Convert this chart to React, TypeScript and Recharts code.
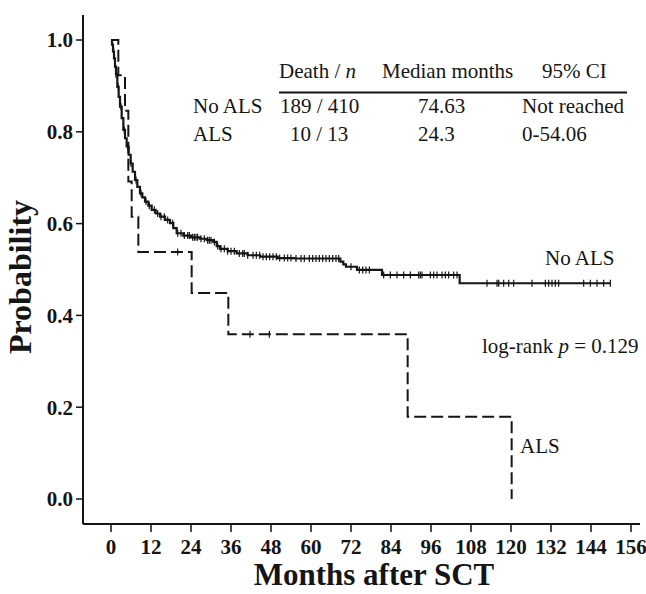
import React from "react";
import { ComposedChart, Line, Scatter, XAxis, YAxis } from "recharts";

const FONT = "'Liberation Serif', 'Times New Roman', serif";
const INK = "#151515";

const monthTicks = [0, 12, 24, 36, 48, 60, 72, 84, 96, 108, 120, 132, 144, 156];
const probTicks = [0, 0.2, 0.4, 0.6, 0.8, 1.0];

// No ALS (n = 410) Kaplan-Meier steps
const noAlsTimes = [
  0, 0.3, 0.6, 0.9, 1.2, 1.5, 1.9, 2.3, 2.7, 3.2, 3.7, 4.2, 4.7, 5.3, 5.9, 6.5,
  7.2, 7.9, 8.7, 9.4, 10.2, 11.2, 12.2, 13.4, 14.7, 16.2, 17.7, 18.7, 19.7,
  21.7, 24, 26.7, 28.7, 30.7, 31.7, 32.7, 35, 37.7, 41, 44.7, 50, 55, 68.8,
  69.7, 70.5, 73.8, 81.3, 104.6, 149.8,
];
const noAlsSurv = [
  1.0, 0.99, 0.975, 0.96, 0.942, 0.925, 0.898, 0.876, 0.855, 0.83, 0.804, 0.786,
  0.768, 0.75, 0.731, 0.713, 0.695, 0.68, 0.666, 0.657, 0.648, 0.639, 0.63,
  0.622, 0.615, 0.608, 0.601, 0.59, 0.579, 0.574, 0.57, 0.567, 0.564, 0.56,
  0.551, 0.545, 0.54, 0.535, 0.531, 0.528, 0.525, 0.524, 0.517, 0.511, 0.506,
  0.499, 0.488, 0.47, 0.47,
];
const noAlsCensored = [
  0.8, 1.5, 2.2, 3, 4, 5, 6, 7.5, 9, 10.5, 11.5, 13, 14, 15, 16, 17, 18.5, 20,
  21, 22, 23, 23.5, 24.5, 25, 25.5, 26, 27, 28, 29, 29.5, 30, 31, 32, 33, 34,
  35, 36, 37, 38.5, 39.5, 40, 41, 42.6, 43.6, 44.6, 45.6, 46.6, 47.6, 48.6,
  49.6, 50.6, 52, 53, 54, 55.5, 57, 58, 59.5, 60.5, 61.5, 62.5, 63.5, 64.5,
  65.5, 66.5, 67.5, 68.3, 72, 74.5, 75.5, 76.5, 77.5, 81.8, 83.8, 85.8, 87.8,
  89.8, 92.3, 92.8, 93.3, 95.8, 96.8, 97.8, 99.3, 100.3, 101.3, 102.8, 103.8,
  112.8, 115.8, 116.3, 117.8, 119.3, 120.8, 126.3, 130.3, 131.3, 132.3, 133.3,
  134.3, 141.8, 143.8, 145.8, 147.8, 149.8,
];

// ALS (n = 13)
const alsTimes = [0, 2.2, 4.2, 5.2, 6.2, 8.2, 24.2, 35.2, 89, 120.2];
const alsSurv = [1.0, 0.923, 0.846, 0.692, 0.615, 0.538, 0.449, 0.359, 0.179, 0];
const alsCensored = [20, 41.7, 47.5];

const tableHeader = ["Death / ", "Median months", "95% CI"];
const tableRows = [
  ["No ALS", "189 / 410", "74.63", "Not reached"],
  ["ALS", "10 / 13", "24.3", "0-54.06"],
];

const toSeries = (times: number[], surv: number[]) =>
  times.map((t, i) => ({ t, s: surv[i] }));

const stepValue = (times: number[], surv: number[], t: number) => {
  let v = surv[0];
  for (let i = 0; i < times.length; i++) if (times[i] <= t) v = surv[i];
  return v;
};

const noAlsLine = toSeries(noAlsTimes, noAlsSurv);
const alsLine = toSeries(alsTimes, alsSurv);
const noAlsMarks = noAlsCensored.map((t) => ({ t, s: stepValue(noAlsTimes, noAlsSurv, t) }));
const alsMarks = alsCensored.map((t) => ({ t, s: stepValue(alsTimes, alsSurv, t) }));

const CensorMark = (props: any) => {
  const { cx, cy } = props;
  if (cx == null || cy == null) return null;
  return (
    <g>
      <line x1={cx} x2={cx} y1={cy - 3.5} y2={cy + 3.5} stroke={INK} strokeWidth={1.2} />
    </g>
  );
};

const tickStyle = { fill: INK, fontSize: 21, fontWeight: 700, fontFamily: FONT };

export default function App() {
  return (
    <div style={{ position: "absolute", left: 0, top: 0, width: 646, height: 594, background: "#fff" }}>
      <ComposedChart
        width={646}
        height={594}
        margin={{ top: 15, right: 6, bottom: 0, left: 0 }}
        style={{ position: "absolute", left: 0, top: 0 }}
      >
        <XAxis
          dataKey="t"
          type="number"
          domain={[-8.4, 158.7]}
          allowDataOverflow
          ticks={monthTicks}
          interval={0}
          height={70}
          tickSize={8}
          tickMargin={7}
          tick={tickStyle}
          axisLine={{ stroke: INK, strokeWidth: 2 }}
          tickLine={{ stroke: INK, strokeWidth: 1.5 }}
        />
        <YAxis
          dataKey="s"
          type="number"
          domain={[-0.0545, 1.0545]}
          allowDataOverflow
          ticks={probTicks}
          interval={0}
          width={83}
          tickSize={7}
          tickMargin={3}
          tick={tickStyle}
          tickFormatter={(v: number) => v.toFixed(1)}
          axisLine={{ stroke: INK, strokeWidth: 2 }}
          tickLine={{ stroke: INK, strokeWidth: 1.5 }}
        />
        <Line
          data={noAlsLine}
          dataKey="s"
          type="stepAfter"
          stroke={INK}
          strokeWidth={2.2}
          dot={false}
          activeDot={false}
          isAnimationActive={false}
        />
        <Line
          data={alsLine}
          dataKey="s"
          type="stepAfter"
          stroke={INK}
          strokeWidth={2}
          strokeDasharray="12 5"
          dot={false}
          activeDot={false}
          isAnimationActive={false}
        />
        <Scatter data={noAlsMarks} dataKey="s" shape={CensorMark} isAnimationActive={false} />
        <Scatter data={alsMarks} dataKey="s" shape={CensorMark} isAnimationActive={false} />
      </ComposedChart>
      <svg
        width={646}
        height={594}
        style={{ position: "absolute", left: 0, top: 0, pointerEvents: "none" }}
        fontFamily={FONT}
        fill={INK}
      >
        <text x={31} y={277} transform="rotate(-90 31 277)" textAnchor="middle" fontSize={32} fontWeight={700}>
          Probability
        </text>
        <text x={374} y={585} textAnchor="middle" fontSize={31} fontWeight={700}>
          Months after SCT
        </text>
        <g fontSize={21}>
          <text x={279} y={78}>
            {tableHeader[0]}
            <tspan fontStyle="italic">n</tspan>
          </text>
          <text x={382} y={78}>{tableHeader[1]}</text>
          <text x={542} y={78}>{tableHeader[2]}</text>
          <line x1={279} x2={627} y1={92.5} y2={92.5} stroke={INK} strokeWidth={2} />
          <text x={193} y={113}>{tableRows[0][0]}</text>
          <text x={280} y={113}>{tableRows[0][1]}</text>
          <text x={418} y={113}>{tableRows[0][2]}</text>
          <text x={522} y={113}>{tableRows[0][3]}</text>
          <text x={193} y={141}>{tableRows[1][0]}</text>
          <text x={290} y={141}>{tableRows[1][1]}</text>
          <text x={418} y={141}>{tableRows[1][2]}</text>
          <text x={522} y={141}>{tableRows[1][3]}</text>
          <text x={545} y={265}>No ALS</text>
          <text x={482} y={353}>
            log-rank <tspan fontStyle="italic">p</tspan> = 0.129
          </text>
          <text x={520} y={453}>ALS</text>
        </g>
      </svg>
    </div>
  );
}
